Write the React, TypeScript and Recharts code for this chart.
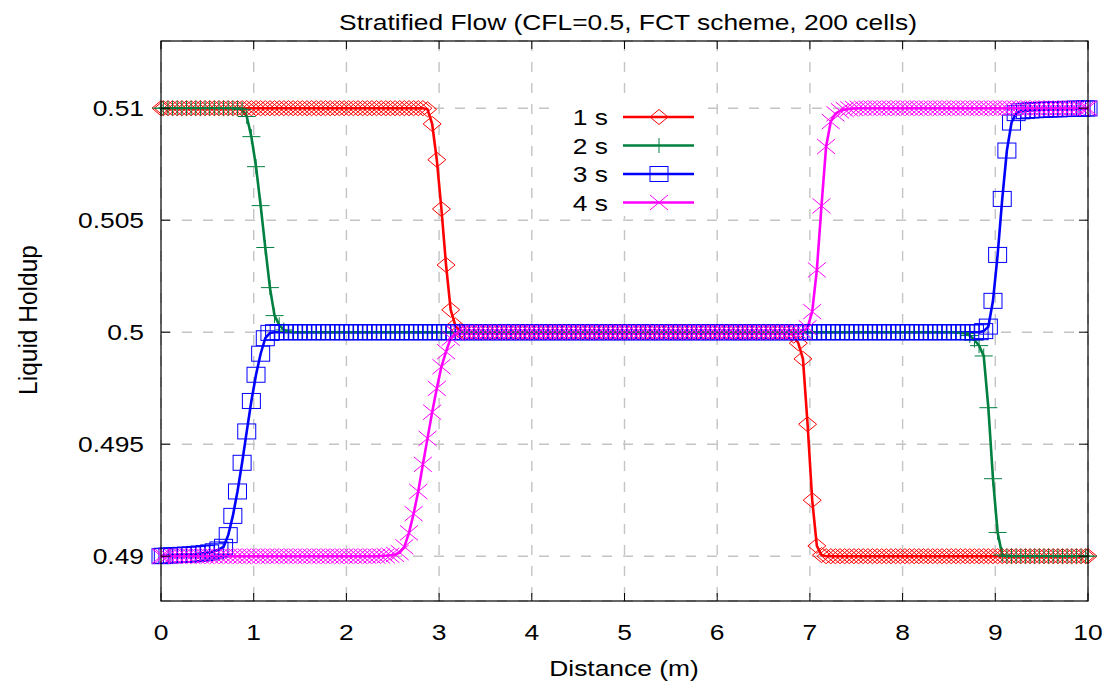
import { LineChart, Line, XAxis, YAxis, CartesianGrid } from 'recharts'

// cell centres (200 cells over 10 m) plus the two boundary points
const DISTANCE = [
  0,
  0.025, 0.075, 0.125, 0.175, 0.225, 0.275, 0.325, 0.375, 0.425, 0.475,
  0.525, 0.575, 0.625, 0.675, 0.725, 0.775, 0.825, 0.875, 0.925, 0.975,
  1.025, 1.075, 1.125, 1.175, 1.225, 1.275, 1.325, 1.375, 1.425, 1.475,
  1.525, 1.575, 1.625, 1.675, 1.725, 1.775, 1.825, 1.875, 1.925, 1.975,
  2.025, 2.075, 2.125, 2.175, 2.225, 2.275, 2.325, 2.375, 2.425, 2.475,
  2.525, 2.575, 2.625, 2.675, 2.725, 2.775, 2.825, 2.875, 2.925, 2.975,
  3.025, 3.075, 3.125, 3.175, 3.225, 3.275, 3.325, 3.375, 3.425, 3.475,
  3.525, 3.575, 3.625, 3.675, 3.725, 3.775, 3.825, 3.875, 3.925, 3.975,
  4.025, 4.075, 4.125, 4.175, 4.225, 4.275, 4.325, 4.375, 4.425, 4.475,
  4.525, 4.575, 4.625, 4.675, 4.725, 4.775, 4.825, 4.875, 4.925, 4.975,
  5.025, 5.075, 5.125, 5.175, 5.225, 5.275, 5.325, 5.375, 5.425, 5.475,
  5.525, 5.575, 5.625, 5.675, 5.725, 5.775, 5.825, 5.875, 5.925, 5.975,
  6.025, 6.075, 6.125, 6.175, 6.225, 6.275, 6.325, 6.375, 6.425, 6.475,
  6.525, 6.575, 6.625, 6.675, 6.725, 6.775, 6.825, 6.875, 6.925, 6.975,
  7.025, 7.075, 7.125, 7.175, 7.225, 7.275, 7.325, 7.375, 7.425, 7.475,
  7.525, 7.575, 7.625, 7.675, 7.725, 7.775, 7.825, 7.875, 7.925, 7.975,
  8.025, 8.075, 8.125, 8.175, 8.225, 8.275, 8.325, 8.375, 8.425, 8.475,
  8.525, 8.575, 8.625, 8.675, 8.725, 8.775, 8.825, 8.875, 8.925, 8.975,
  9.025, 9.075, 9.125, 9.175, 9.225, 9.275, 9.325, 9.375, 9.425, 9.475,
  9.525, 9.575, 9.625, 9.675, 9.725, 9.775, 9.825, 9.875, 9.925, 9.975,
  10,
]

const HOLDUP_1S = [
  0.51,
  0.51, 0.51, 0.51, 0.51, 0.51, 0.51, 0.51, 0.51, 0.51, 0.51,
  0.51, 0.51, 0.51, 0.51, 0.51, 0.51, 0.51, 0.51, 0.51, 0.51,
  0.51, 0.51, 0.51, 0.51, 0.51, 0.51, 0.51, 0.51, 0.51, 0.51,
  0.51, 0.51, 0.51, 0.51, 0.51, 0.51, 0.51, 0.51, 0.51, 0.51,
  0.51, 0.51, 0.51, 0.51, 0.51, 0.51, 0.51, 0.51, 0.51, 0.51,
  0.51, 0.51, 0.51, 0.51, 0.51, 0.51, 0.51, 0.50995, 0.5093, 0.5077,
  0.5055, 0.503, 0.501, 0.5003, 0.50005, 0.5, 0.5, 0.5, 0.5, 0.5,
  0.5, 0.5, 0.5, 0.5, 0.5, 0.5, 0.5, 0.5, 0.5, 0.5,
  0.5, 0.5, 0.5, 0.5, 0.5, 0.5, 0.5, 0.5, 0.5, 0.5,
  0.5, 0.5, 0.5, 0.5, 0.5, 0.5, 0.5, 0.5, 0.5, 0.5,
  0.5, 0.5, 0.5, 0.5, 0.5, 0.5, 0.5, 0.5, 0.5, 0.5,
  0.5, 0.5, 0.5, 0.5, 0.5, 0.5, 0.5, 0.5, 0.5, 0.5,
  0.5, 0.5, 0.5, 0.5, 0.5, 0.5, 0.5, 0.5, 0.5, 0.5,
  0.5, 0.5, 0.5, 0.5, 0.5, 0.5, 0.49985, 0.49951, 0.49881, 0.49589,
  0.4925, 0.49046, 0.49005, 0.49, 0.49, 0.49, 0.49, 0.49, 0.49, 0.49,
  0.49, 0.49, 0.49, 0.49, 0.49, 0.49, 0.49, 0.49, 0.49, 0.49,
  0.49, 0.49, 0.49, 0.49, 0.49, 0.49, 0.49, 0.49, 0.49, 0.49,
  0.49, 0.49, 0.49, 0.49, 0.49, 0.49, 0.49, 0.49, 0.49, 0.49,
  0.49, 0.49, 0.49, 0.49, 0.49, 0.49, 0.49, 0.49, 0.49, 0.49,
  0.49, 0.49, 0.49, 0.49, 0.49, 0.49, 0.49, 0.49, 0.49, 0.49,
  0.49,
]

const HOLDUP_2S = [
  0.51,
  0.51, 0.51, 0.51, 0.51, 0.51, 0.51, 0.51, 0.51, 0.51, 0.51,
  0.51, 0.51, 0.51, 0.51, 0.51, 0.51, 0.51, 0.50995, 0.50963, 0.50873,
  0.50739, 0.50565, 0.50378, 0.50199, 0.50074, 0.50033, 0.5001, 0.50003, 0.5, 0.5,
  0.5, 0.5, 0.5, 0.5, 0.5, 0.5, 0.5, 0.5, 0.5, 0.5,
  0.5, 0.5, 0.5, 0.5, 0.5, 0.5, 0.5, 0.5, 0.5, 0.5,
  0.5, 0.5, 0.5, 0.5, 0.5, 0.5, 0.5, 0.5, 0.5, 0.5,
  0.5, 0.5, 0.5, 0.5, 0.5, 0.5, 0.5, 0.5, 0.5, 0.5,
  0.5, 0.5, 0.5, 0.5, 0.5, 0.5, 0.5, 0.5, 0.5, 0.5,
  0.5, 0.5, 0.5, 0.5, 0.5, 0.5, 0.5, 0.5, 0.5, 0.5,
  0.5, 0.5, 0.5, 0.5, 0.5, 0.5, 0.5, 0.5, 0.5, 0.5,
  0.5, 0.5, 0.5, 0.5, 0.5, 0.5, 0.5, 0.5, 0.5, 0.5,
  0.5, 0.5, 0.5, 0.5, 0.5, 0.5, 0.5, 0.5, 0.5, 0.5,
  0.5, 0.5, 0.5, 0.5, 0.5, 0.5, 0.5, 0.5, 0.5, 0.5,
  0.5, 0.5, 0.5, 0.5, 0.5, 0.5, 0.5, 0.5, 0.5, 0.5,
  0.5, 0.5, 0.5, 0.5, 0.5, 0.5, 0.5, 0.5, 0.5, 0.5,
  0.5, 0.5, 0.5, 0.5, 0.5, 0.5, 0.5, 0.5, 0.5, 0.5,
  0.5, 0.5, 0.5, 0.5, 0.5, 0.5, 0.5, 0.5, 0.5, 0.5,
  0.5, 0.5, 0.49998, 0.49994, 0.49985, 0.49965, 0.4994, 0.49894, 0.49663, 0.49346,
  0.49106, 0.49005, 0.49, 0.49, 0.49, 0.49, 0.49, 0.49, 0.49, 0.49,
  0.49, 0.49, 0.49, 0.49, 0.49, 0.49, 0.49, 0.49, 0.49, 0.49,
  0.49,
]

const HOLDUP_3S = [
  0.49,
  0.49002, 0.49003, 0.49004, 0.49005, 0.49006, 0.49007, 0.49008, 0.4901, 0.49012, 0.49014,
  0.49017, 0.49022, 0.4903, 0.49042, 0.49094, 0.4918, 0.49289, 0.49417, 0.49557, 0.49693,
  0.4981, 0.49904, 0.49973, 0.49997, 0.5, 0.5, 0.5, 0.5, 0.5, 0.5,
  0.5, 0.5, 0.5, 0.5, 0.5, 0.5, 0.5, 0.5, 0.5, 0.5,
  0.5, 0.5, 0.5, 0.5, 0.5, 0.5, 0.5, 0.5, 0.5, 0.5,
  0.5, 0.5, 0.5, 0.5, 0.5, 0.5, 0.5, 0.5, 0.5, 0.5,
  0.5, 0.5, 0.5, 0.5, 0.5, 0.5, 0.5, 0.5, 0.5, 0.5,
  0.5, 0.5, 0.5, 0.5, 0.5, 0.5, 0.5, 0.5, 0.5, 0.5,
  0.5, 0.5, 0.5, 0.5, 0.5, 0.5, 0.5, 0.5, 0.5, 0.5,
  0.5, 0.5, 0.5, 0.5, 0.5, 0.5, 0.5, 0.5, 0.5, 0.5,
  0.5, 0.5, 0.5, 0.5, 0.5, 0.5, 0.5, 0.5, 0.5, 0.5,
  0.5, 0.5, 0.5, 0.5, 0.5, 0.5, 0.5, 0.5, 0.5, 0.5,
  0.5, 0.5, 0.5, 0.5, 0.5, 0.5, 0.5, 0.5, 0.5, 0.5,
  0.5, 0.5, 0.5, 0.5, 0.5, 0.5, 0.5, 0.5, 0.5, 0.5,
  0.5, 0.5, 0.5, 0.5, 0.5, 0.5, 0.5, 0.5, 0.5, 0.5,
  0.5, 0.5, 0.5, 0.5, 0.5, 0.5, 0.5, 0.5, 0.5, 0.5,
  0.5, 0.5, 0.5, 0.5, 0.5, 0.5, 0.5, 0.5, 0.5, 0.5,
  0.5, 0.5, 0.5, 0.5, 0.5, 0.5, 0.5, 0.50005, 0.50025, 0.5014,
  0.50345, 0.50595, 0.50811, 0.50936, 0.50978, 0.50986, 0.50988, 0.5099, 0.50991, 0.50992,
  0.50993, 0.50994, 0.50995, 0.50995, 0.50996, 0.50997, 0.50997, 0.50998, 0.50998, 0.50999,
  0.50999,
]

const HOLDUP_4S = [
  0.49,
  0.49, 0.49, 0.49, 0.49, 0.49, 0.49, 0.49, 0.49, 0.49, 0.49,
  0.49, 0.49, 0.49, 0.49, 0.49, 0.49, 0.49, 0.49, 0.49, 0.49,
  0.49, 0.49, 0.49, 0.49, 0.49, 0.49, 0.49, 0.49, 0.49, 0.49,
  0.49, 0.49, 0.49, 0.49, 0.49, 0.49, 0.49, 0.49, 0.49, 0.49,
  0.49, 0.49, 0.49, 0.49, 0.49, 0.49, 0.49, 0.49001, 0.49002, 0.49004,
  0.49008, 0.49016, 0.49042, 0.49104, 0.4919, 0.49289, 0.4941, 0.49526, 0.49643, 0.49749,
  0.49846, 0.49913, 0.49973, 0.49995, 0.5, 0.5, 0.5, 0.5, 0.5, 0.5,
  0.5, 0.5, 0.5, 0.5, 0.5, 0.5, 0.5, 0.5, 0.5, 0.5,
  0.5, 0.5, 0.5, 0.5, 0.5, 0.5, 0.5, 0.5, 0.5, 0.5,
  0.5, 0.5, 0.5, 0.5, 0.5, 0.5, 0.5, 0.5, 0.5, 0.5,
  0.5, 0.5, 0.5, 0.5, 0.5, 0.5, 0.5, 0.5, 0.5, 0.5,
  0.5, 0.5, 0.5, 0.5, 0.5, 0.5, 0.5, 0.5, 0.5, 0.5,
  0.5, 0.5, 0.5, 0.5, 0.5, 0.5, 0.5, 0.5, 0.5, 0.5,
  0.5, 0.5, 0.5, 0.5, 0.5, 0.5, 0.5, 0.5, 0.50002, 0.5002,
  0.50092, 0.50278, 0.50564, 0.50829, 0.5094, 0.50975, 0.50988, 0.50994, 0.50997, 0.50999,
  0.51, 0.51, 0.51, 0.51, 0.51, 0.51, 0.51, 0.51, 0.51, 0.51,
  0.51, 0.51, 0.51, 0.51, 0.51, 0.51, 0.51, 0.51, 0.51, 0.51,
  0.51, 0.51, 0.51, 0.51, 0.51, 0.51, 0.51, 0.51, 0.51, 0.51,
  0.51, 0.51, 0.51, 0.51, 0.51, 0.51, 0.51, 0.51, 0.51, 0.51,
  0.51, 0.51, 0.51, 0.51, 0.51, 0.51, 0.51, 0.51, 0.51, 0.51,
  0.51,
]

const X_TICKS = [0, 1, 2, 3, 4, 5, 6, 7, 8, 9, 10]
const Y_TICKS = [0.49, 0.495, 0.5, 0.505, 0.51]

const SERIES = [
  { key: 's1', name: '1 s', color: '#ff0000', shape: 'diamond', values: HOLDUP_1S },
  { key: 's2', name: '2 s', color: '#008040', shape: 'plus', values: HOLDUP_2S },
  { key: 's3', name: '3 s', color: '#0000ff', shape: 'square', values: HOLDUP_3S },
  { key: 's4', name: '4 s', color: '#ff00ff', shape: 'cross', values: HOLDUP_4S },
]

const data = DISTANCE.map((x, i) => {
  const row: Record<string, number> = { x }
  SERIES.forEach((s) => {
    row[s.key] = s.values[i]
  })
  return row
})

const W = 1112
const H = 690
const PLOT = { left: 161, right: 1088, top: 41, bottom: 601 }
const FONT = '"Liberation Sans", Arial, Helvetica, sans-serif'
const TICK = 8

// the source image is stretched ~1.2x horizontally, so text is too
function SText({ x, y, anchor = 'middle', rotate = 0, size = 22, sx = 1.2, children }: any) {
  const t = `translate(${x},${y}) scale(${sx},1)` + (rotate ? ` rotate(${rotate})` : '')
  return (
    <text transform={t} textAnchor={anchor} fontFamily={FONT} fontSize={size} fill="#000">
      {children}
    </text>
  )
}

function Marker({ shape, cx, cy, color }: any) {
  if (cx == null || cy == null) return null
  const w = 9
  const h = 7.5
  const common = { fill: 'none', stroke: color, strokeWidth: 1 }
  if (shape === 'diamond')
    return <polygon points={`${cx},${cy - h} ${cx + w},${cy} ${cx},${cy + h} ${cx - w},${cy}`} {...common} />
  if (shape === 'plus') return <path d={`M${cx - w},${cy}H${cx + w}M${cx},${cy - h}V${cy + h}`} {...common} />
  if (shape === 'square') return <rect x={cx - w} y={cy - h} width={2 * w} height={2 * h} {...common} />
  return <path d={`M${cx - w},${cy - h}L${cx + w},${cy + h}M${cx - w},${cy + h}L${cx + w},${cy - h}`} {...common} />
}

function XTick({ x, y, payload }: any) {
  return (
    <g>
      <line x1={x} x2={x} y1={PLOT.bottom} y2={PLOT.bottom - TICK} stroke="#000" />
      <line x1={x} x2={x} y1={PLOT.top} y2={PLOT.top + TICK} stroke="#000" />
      <SText x={x} y={y + 39}>{payload.value}</SText>
    </g>
  )
}

function YTick({ x, y, payload }: any) {
  return (
    <g>
      <line x1={PLOT.left} x2={PLOT.left + TICK + 1} y1={y} y2={y} stroke="#000" />
      <line x1={PLOT.right} x2={PLOT.right - TICK - 1} y1={y} y2={y} stroke="#000" />
      <SText x={x - 17} y={y + 8} anchor="end">{payload.value}</SText>
    </g>
  )
}

const LEGEND_ROWS = [117, 145.5, 174, 202.5]

export default function App() {
  return (
    <div style={{ position: 'absolute', left: 0, top: 0, width: W, height: H, background: '#fff' }}>
      <LineChart width={W} height={H} data={data} margin={{ top: PLOT.top, right: W - PLOT.right, bottom: 0, left: 0 }}>
        <CartesianGrid stroke="#c4c4c4" strokeWidth={1.4} strokeDasharray="10 11" />
        <XAxis
          dataKey="x"
          type="number"
          domain={[0, 10]}
          ticks={X_TICKS}
          height={H - PLOT.bottom}
          axisLine={false}
          tickLine={false}
          tickSize={0}
          tickMargin={0}
          tick={<XTick />}
          interval={0}
        />
        <YAxis
          type="number"
          domain={[0.488, 0.513]}
          ticks={Y_TICKS}
          width={PLOT.left}
          axisLine={false}
          tickLine={false}
          tickSize={0}
          tickMargin={0}
          tick={<YTick />}
          interval={0}
        />
        {SERIES.map((s) => (
          <Line
            key={s.key}
            dataKey={s.key}
            name={s.name}
            type="linear"
            stroke={s.color}
            strokeWidth={2.6}
            isAnimationActive={false}
            activeDot={false}
            dot={(p: any) => <Marker key={`${s.key}-${p.index}`} shape={s.shape} cx={p.cx} cy={p.cy} color={s.color} />}
          />
        ))}
      </LineChart>
      <svg width={W} height={H} style={{ position: 'absolute', left: 0, top: 0, pointerEvents: 'none' }}>
        <rect
          x={PLOT.left}
          y={PLOT.top}
          width={PLOT.right - PLOT.left}
          height={PLOT.bottom - PLOT.top}
          fill="none"
          stroke="#000"
          strokeWidth={1.2}
        />
        <rect x={560} y={100} width={148} height={116} fill="#fff" />
        {SERIES.map((s, i) => (
          <g key={s.key}>
            <SText x={608} y={LEGEND_ROWS[i] + 8} anchor="end">{s.name}</SText>
            <line x1={623} x2={694} y1={LEGEND_ROWS[i]} y2={LEGEND_ROWS[i]} stroke={s.color} strokeWidth={2.6} />
            <Marker shape={s.shape} cx={659} cy={LEGEND_ROWS[i]} color={s.color} />
          </g>
        ))}
        <SText x={628} y={30}>Stratified Flow (CFL=0.5, FCT scheme, 200 cells)</SText>
        <SText x={624} y={676}>Distance (m)</SText>
        <SText x={37} y={320} rotate={-90} size={24.5} sx={1.05}>Liquid Holdup</SText>
      </svg>
    </div>
  )
}
